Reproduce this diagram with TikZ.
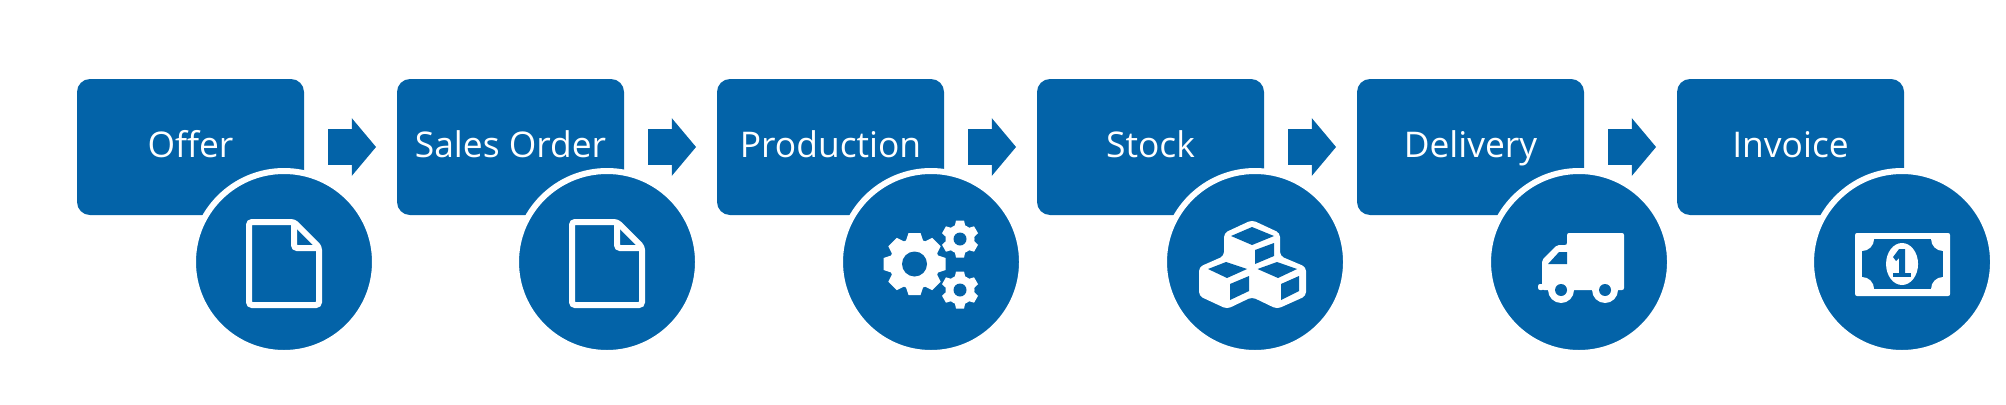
\documentclass[tikz,border=0pt]{standalone}
\usepackage{fontspec}
\setmainfont{Open Sans}
\usetikzlibrary{positioning}
\usetikzlibrary{shapes.arrows}
\definecolor{flowblue}{HTML}{0363A8}
\tikzset{
  stepbox/.style={fill=flowblue,rounded corners=6.5pt,minimum width=113.5pt,minimum height=68pt,inner sep=0pt,outer sep=0pt,text=white,font=\fontsize{17.7}{20}\selectfont,text height=13.5pt,text depth=3.5pt},
  nextarrow/.style={single arrow,fill=flowblue,minimum height=24pt,minimum width=28.5pt,single arrow head extend=5.5pt,single arrow tip angle=100,inner xsep=0pt,inner ysep=8.75pt,outer sep=0pt},
  badge/.style={circle,fill=flowblue,draw=white,line width=3pt,minimum size=91pt,inner sep=0pt,outer sep=0pt},
  iconline/.style={draw=white,line width=3pt,rounded corners=1.5pt},
  docicon/.pic={
    \draw[iconline] (-35,40) -- (10,40) -- (35,15) -- (35,-43) -- (-35,-43) -- cycle;
    \draw[iconline] (10,40) -- (10,14) -- (35,14);
  },
  gearicon/.pic={
    %large gear
    \begin{scope}[shift={(-16.5,-2)}]
      \fill[white] (0,0) circle (25);
      \foreach \ang in {0,45,...,315}
        {\fill[white,rotate=\ang] (-9,22) -- (-6,31) -- (6,31) -- (9,22) -- cycle;}
      \fill[flowblue] (0,0) circle (12.5);
    \end{scope}
    %small gears
    \foreach \gy in {23,-28} {
      \begin{scope}[shift={(29,\gy)}]
        \fill[white] (0,0) circle (14.5);
        \foreach \ang in {0,60,...,300}
          {\fill[white,rotate=\ang] (-5.5,12) -- (-4,18.5) -- (4,18.5) -- (5.5,12) -- cycle;}
        \fill[flowblue] (0,0) circle (6.5);
      \end{scope}
    }
  },
  cubeicon/.pic={
    \fill[white,rounded corners=2pt] (-3,42) -- (25,29) -- (25,6) -- (51,-5) -- (51,-34) -- (22,-47) -- (-3,-35) -- (-28,-47) -- (-56,-34) -- (-56,-5) -- (-31,6) -- (-31,29) -- cycle;
    %top cube
    \fill[flowblue] (-24,26) -- (-3,35) -- (19,26) -- (-3,17) -- cycle;
    \fill[flowblue] (0,12) -- (19,19) -- (19,6) -- (0,-2) -- cycle;
    %left cube
    \fill[flowblue] (-47,-7) -- (-29,0) -- (-8,-7) -- (-28,-16) -- cycle;
    \fill[flowblue] (-25,-22) -- (-6,-14) -- (-6,-29) -- (-25,-38) -- cycle;
    %right cube
    \fill[flowblue] (2.5,-7) -- (22,0) -- (42,-7) -- (23,-16) -- cycle;
    \fill[flowblue] (26,-22) -- (44,-14) -- (44,-29) -- (26,-38) -- cycle;
  },
  truckicon/.pic={
    \fill[white,rounded corners=1pt] (-12,29) -- (45,29) -- (45,-28) -- (-37,-28) -- (-37,2) -- (-22,17) -- (-12,17) -- cycle;
    \fill[flowblue] (-20,10) -- (-12,10) -- (-12,-2) -- (-31,-2) -- cycle;
    \fill[white,rounded corners=1pt] (-41,-22) rectangle (-35,-28);
    \foreach \wx in {-18,26} {
      \fill[white] (\wx,-28) circle (13);
      \fill[flowblue] (\wx,-28) circle (6);
    }
  },
  noteicon/.pic={
    \fill[white,rounded corners=1pt] (-47,29) rectangle (48,-34);
    \begin{scope}
      \clip (-40,23) rectangle (41,-27);
      \fill[flowblue] (-40,23) rectangle (41,-27);
      \foreach \cx/\cy in {-40/23,41/23,-40/-27,41/-27}
        {\fill[white] (\cx,\cy) circle (12);}
    \end{scope}
    \fill[white] (0,-2) ellipse (16 and 21);
    \fill[flowblue] (-9,-15) rectangle (9,-11);
    \fill[flowblue] (-3,-11) -- (-3,4) -- (-6,1) -- (-9,5) -- (-3,13) -- (3,13) -- (3,-11) -- cycle;
  },
}

\begin{document}
\begin{tikzpicture}[x=.5pt,y=.5pt]
  \useasboundingbox (0,0) rectangle (2006,404);
  %steps
  \node[stepbox,at={(190.5,257)}] (offer) {Offer};
  \node[nextarrow,right=12pt of offer] (offerarrow) {};
  \node[stepbox,right=10.5pt of offerarrow] (order) {Sales Order};
  \node[nextarrow,right=12pt of order] (orderarrow) {};
  \node[stepbox,right=10.5pt of orderarrow] (production) {Production};
  \node[nextarrow,right=12pt of production] (productionarrow) {};
  \node[stepbox,right=10.5pt of productionarrow] (stock) {Stock};
  \node[nextarrow,right=12pt of stock] (stockarrow) {};
  \node[stepbox,right=10.5pt of stockarrow] (delivery) {Delivery};
  \node[nextarrow,right=12pt of delivery] (deliveryarrow) {};
  \node[stepbox,right=10.5pt of deliveryarrow] (invoice) {Invoice};

  %badges
  \node[badge,at=(offer.south east),xshift=-10pt,yshift=-23.5pt] (offerbadge) {};
  \node[badge,at=(order.south east),xshift=-8.5pt,yshift=-23.5pt] (orderbadge) {};
  \node[badge,at=(production.south east),xshift=-6.5pt,yshift=-23.5pt] (productionbadge) {};
  \node[badge,at=(stock.south east),xshift=-4.5pt,yshift=-23.5pt] (stockbadge) {};
  \node[badge,at=(delivery.south east),xshift=-2.5pt,yshift=-23.5pt] (deliverybadge) {};
  \node[badge,at=(invoice.south east),xshift=-1pt,yshift=-23.5pt] (invoicebadge) {};

  %icons
  \pic[at=(offerbadge)] {docicon};
  \pic[at=(orderbadge)] {docicon};
  \pic[at=(productionbadge)] {gearicon};
  \pic[at=(stockbadge)] {cubeicon};
  \pic[at=(deliverybadge)] {truckicon};
  \pic[at=(invoicebadge)] {noteicon};
\end{tikzpicture}
\end{document}
